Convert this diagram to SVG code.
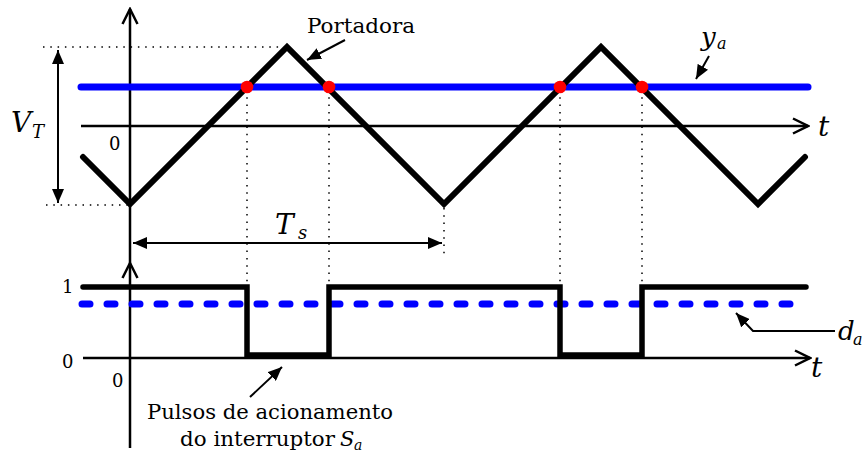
<svg xmlns="http://www.w3.org/2000/svg" width="866" height="457" viewBox="0 0 866 457">
<style>
.ax{stroke:#000;stroke-width:2.5;fill:none}
.wave{stroke:#000;stroke-width:6;fill:none;stroke-linejoin:miter;stroke-linecap:round}
.dot{stroke:#000;stroke-width:1.5;stroke-dasharray:1.5 5.8;fill:none}
.blue{stroke:#0000ff;stroke-width:7;stroke-linecap:round;fill:none}
.con{stroke:#000;stroke-width:2;fill:none}
text{fill:#000}
.it{font-style:italic}
</style>
<defs>
<marker id="ah" viewBox="0 0 14 12" refX="14" refY="6" markerWidth="14" markerHeight="12" orient="auto-start-reverse" markerUnits="userSpaceOnUse"><path d="M0,0 L14,6 L0,12 z" fill="#000"/></marker>
<marker id="ch" viewBox="0 0 18 18" refX="16" refY="9" markerWidth="18" markerHeight="18" orient="auto" markerUnits="userSpaceOnUse"><path d="M1,1.5 L16,9 L1,16.5" fill="none" stroke="#000" stroke-width="2.5"/></marker>
</defs>
<rect width="866" height="457" fill="#fff"/>
<g id="guides">
<line class="dot" x1="43" y1="47" x2="287" y2="47"/>
<line class="dot" x1="46" y1="205" x2="130" y2="205"/>
<line class="dot" x1="247" y1="90" x2="247" y2="285"/>
<line class="dot" x1="329" y1="90" x2="329" y2="285"/>
<line class="dot" x1="560" y1="90" x2="560" y2="285"/>
<line class="dot" x1="642" y1="90" x2="642" y2="285"/>
<line class="dot" x1="444" y1="208" x2="444" y2="258"/>
</g>
<g id="axes">
<line class="ax" x1="130" y1="448" x2="130" y2="9" marker-end="url(#ch)"/>
<line class="ax" x1="81" y1="126" x2="808" y2="126" marker-end="url(#ch)"/>
<line class="ax" x1="83" y1="358" x2="810" y2="358" marker-end="url(#ch)"/>
<path class="ax" d="M122.5,278 L130,263 L137.5,278"/>
</g>
<g id="reference-ya">
<line class="blue" x1="81" y1="87" x2="808" y2="87"/>
</g>
<g id="carrier">
<polyline class="wave" points="83,157 130,204 287,47 444,204 601,47 758,204 805,157"/>
</g>
<g id="duty-da">
<line class="blue" x1="82" y1="304" x2="807" y2="304" style="stroke-dasharray:8 17"/>
</g>
<g id="pulses">
<polyline class="wave" style="stroke-width:5.5" points="83,287 247,287 247,355 329,355 329,287 560,287 560,355 642,355 642,287 806,287"/>
</g>
<g id="intersections" fill="#ff0000">
<circle cx="247" cy="87" r="6.3"/>
<circle cx="329" cy="87" r="6.3"/>
<circle cx="560" cy="87" r="6.3"/>
<circle cx="642" cy="87" r="6.3"/>
</g>
<g id="connectors">
<line class="con" x1="58" y1="50" x2="58" y2="203" marker-start="url(#ah)" marker-end="url(#ah)"/>
<line class="con" x1="133" y1="243" x2="442" y2="243" marker-start="url(#ah)" marker-end="url(#ah)"/>
<line class="con" x1="345" y1="40" x2="307" y2="60" marker-end="url(#ah)"/>
<line class="con" x1="709" y1="56" x2="696" y2="79" marker-end="url(#ah)"/>
<line class="con" x1="250" y1="397" x2="282" y2="367" marker-end="url(#ah)"/>
<polyline class="con" points="835,331 753,331 736,313" marker-end="url(#ah)"/>
</g>
<g font-family="DejaVu Serif, serif">
<g id="label-t-upper"><text class="it" x="818" y="136" font-size="28">t</text></g>
<g id="label-t-lower"><text class="it" x="811" y="377" font-size="28">t</text></g>
<g id="label-VT"><text class="it" x="11" y="132" font-size="28">V</text><text class="it" x="32" y="138" font-size="18">T</text></g>
<g id="label-Ts"><text class="it" x="275" y="234" font-size="28">T</text><text class="it" x="298" y="239" font-size="18">s</text></g>
<g id="label-ya"><text class="it" x="701" y="46" font-size="26">y</text><text class="it" x="717" y="49" font-size="16">a</text></g>
<g id="label-da"><text class="it" x="838" y="340" font-size="26">d</text><text class="it" x="853" y="345" font-size="16">a</text></g>
<g id="ticks">
<text x="109" y="150" font-size="18">0</text>
<text x="62" y="293" font-size="18">1</text>
<text x="62" y="368" font-size="18">0</text>
<text x="112" y="387" font-size="18">0</text>
</g>
<g id="label-portadora"><text x="307" y="33" font-size="20" textLength="108" lengthAdjust="spacingAndGlyphs">Portadora</text></g>
<g id="label-pulsos">
<text x="147" y="419" font-size="20" textLength="246" lengthAdjust="spacingAndGlyphs">Pulsos de acionamento</text>
<text x="180" y="446" font-size="20" textLength="155" lengthAdjust="spacingAndGlyphs">do interruptor</text>
<text class="it" x="340" y="446" font-size="21">S</text><text class="it" x="354" y="450" font-size="14">a</text>
</g>
</g>
</svg>
